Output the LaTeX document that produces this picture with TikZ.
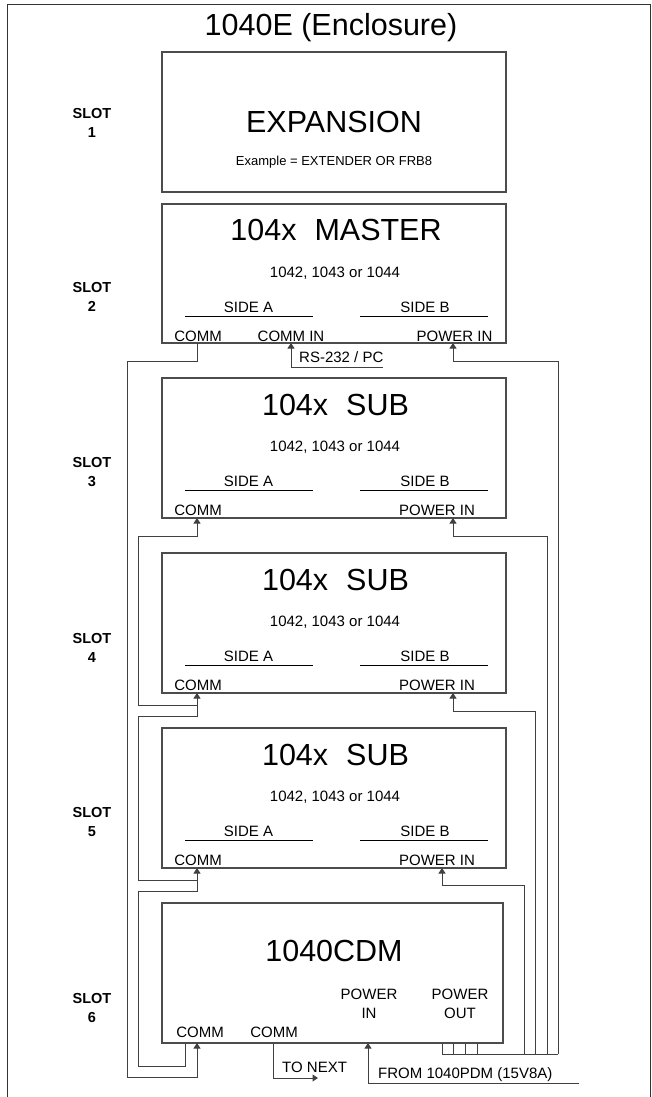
\documentclass[tikz,border=0pt]{standalone}
\usepackage{fontspec}
\setmainfont{Liberation Sans}
\usetikzlibrary{arrows.meta,calc}
\newcommand\fBig{\fontsize{30.5}{36}\selectfont}
\newcommand\fMid{\fontsize{15}{19}\selectfont}
\newcommand\fSm{\fontsize{13}{16}\selectfont}
\newcommand\fSlot{\fontsize{14.5}{19}\selectfont\bfseries}
\begin{document}
\begin{tikzpicture}[x=1pt,y=-1pt,
  box/.style={draw=black!70,line width=1.2pt,minimum width=344pt,minimum height=140pt,inner sep=0pt,outer sep=0pt,anchor=north west},
  lbl/.style={inner sep=0pt,anchor=base,text=black},
  big/.style={lbl,font=\fBig},
  mid/.style={lbl,font=\fMid},
  sml/.style={lbl,font=\fSm},
  slot/.style={inner sep=0pt,font=\fSlot,align=center},
  wire/.style={draw=black!75,line width=1pt},
  arr/.style={wire,-{Triangle[length=5.5pt,width=7pt]}},
  uline/.style={draw=black,line width=0.9pt},
  frame/.style={draw=black!80,line width=1pt}
]
\useasboundingbox (0,0) rectangle (652,1097);
% enclosure frame
\draw[frame] (7.5,1110) |- (650,5) -- (650,1110);
\node[big] (title) at (331,36) {1040E (Enclosure)};

% boxes
\node[box] (exp) at (162,52) {};
\node[box,minimum height=139pt] (mas) at (162,204) {};
\node[box] (s3) at (162,378) {};
\node[box] (s4) at (162,553) {};
\node[box] (s5) at (162,728) {};
\node[box,minimum width=341pt] (cdm) at (162,903) {};

% slot labels
\node[slot] (sl1) at (92,122.5) {SLOT\\1};
\node[slot] (sl2) at (92,297) {SLOT\\2};
\node[slot] (sl3) at (92,472.5) {SLOT\\3};
\node[slot] (sl4) at (92,647.5) {SLOT\\4};
\node[slot] (sl5) at (92,822) {SLOT\\5};
\node[slot] (sl6) at (92,1008) {SLOT\\6};

% expansion
\node[big] (expT) at (334,132) {EXPANSION};
\node[sml] (expS) at (334,165) {Example = EXTENDER OR FRB8};

% master
\node[big] (masT) at (336,240) {104x\hspace{18pt}MASTER};
\node[mid] (masS) at (335,277) {1042, 1043 or 1044};
\node[mid] (masA) at (248.5,312) {SIDE A};
\node[mid] (masB) at (425,312) {SIDE B};
\draw[uline] (185,316) -- (313,316);
\draw[uline] (360,316) -- (488,316);
\node[mid] (masC) at (198,341) {COMM};
\node[mid] (masCI) at (291,341) {COMM IN};
\node[mid] (masP) at (454.5,341) {POWER IN};

% subs
\foreach \n/\T in {s3/378,s4/553,s5/728}{
  \node[big] (\n-t) at (335.5,\T+37) {104x\hspace{18pt}SUB};
  \node[mid] (\n-s) at (335,\T+73) {1042, 1043 or 1044};
  \node[mid] (\n-a) at (248.5,\T+108) {SIDE A};
  \node[mid] (\n-b) at (425,\T+108) {SIDE B};
  \draw[uline] (185,\T+112) -- (313,\T+112);
  \draw[uline] (360,\T+112) -- (488,\T+112);
  \node[mid] (\n-c) at (198,\T+137) {COMM};
  \node[mid] (\n-p) at (437,\T+137) {POWER IN};
}

% CDM
\node[big] (cdmT) at (334,961) {1040CDM};
\node[mid] (cdmC1) at (200,1037) {COMM};
\node[mid] (cdmC2) at (274,1037) {COMM};
\node[mid,align=center] (cdmPI) at (369,1018) {POWER\\IN};
\node[mid,align=center] (cdmPO) at (460,1018) {POWER\\OUT};

\node[mid,anchor=base west] (rs) at (299,362.5) {RS-232 / PC};
\node[mid,anchor=base west] (tnx) at (282,1072) {TO NEXT};
\node[mid,anchor=base west] (from) at (378,1078) {FROM 1040PDM (15V8A)};

% ports
\coordinate (mC) at ([xshift=35pt]mas.south west);
\coordinate (mCI) at ([xshift=129pt]mas.south west);
\coordinate (mP) at ([xshift=291pt]mas.south west);
\coordinate (s3C) at ([xshift=35pt]s3.south west);
\coordinate (s3P) at ([xshift=291pt]s3.south west);
\coordinate (s4C) at ([xshift=35pt]s4.south west);
\coordinate (s4P) at ([xshift=291pt]s4.south west);
\coordinate (s5C) at ([xshift=35pt]s5.south west);
\coordinate (s5P) at ([xshift=280pt]s5.south west);
\coordinate (cCout) at ([xshift=23pt]cdm.south west);
\coordinate (cCin) at ([xshift=35pt]cdm.south west);
\coordinate (cCN) at ([xshift=111pt]cdm.south west);
\coordinate (cPI) at ([xshift=206pt]cdm.south west);
\coordinate (cPO1) at ([xshift=280pt]cdm.south west);
\coordinate (cPO2) at ([xshift=291pt]cdm.south west);
\coordinate (cPO3) at ([xshift=303pt]cdm.south west);
\coordinate (cPO4) at ([xshift=315pt]cdm.south west);
% free ends
\coordinate (rsE) at (383,367);
\coordinate (tn) at (318,1078);
\coordinate (pdm) at (579,1083);
\coordinate (bA) at (524,1054);
\coordinate (bB) at (535,1054);
\coordinate (bC) at (547,1054);
\coordinate (bD) at (558,1054);

% RS-232
\draw[arr] (rsE) -| (mCI);
% comm chain
\draw[arr] (mC) -- ([yshift=-18pt]mC) -| (127,1077) -| (cCin);
\draw[arr] (cCout) -- ++(0,23) -| (138,891) -| (s5C);
\draw[arr] ([yshift=-12pt]s5C) -| (138,716) -| (s4C);
\draw[arr] ([yshift=-12pt]s4C) -| (138,536) -| (s3C);
% to next
\draw[arr] (cCN) |- (tn);
% power
\draw[arr] (pdm) -| (cPI);
\draw[wire] (cPO1) |- (bD);
\draw[wire] (cPO2) -- ++(0,11);
\draw[wire] (cPO3) -- ++(0,11);
\draw[wire] (cPO4) -- ++(0,11);
\draw[arr] (bD) |- ([yshift=-18pt]mP) -- (mP);
\draw[arr] (bC) |- ([yshift=-18pt]s3P) -- (s3P);
\draw[arr] (bB) |- ([yshift=-18pt]s4P) -- (s4P);
\draw[arr] (bA) |- ([yshift=-17pt]s5P) -- (s5P);
\end{tikzpicture}
\end{document}
